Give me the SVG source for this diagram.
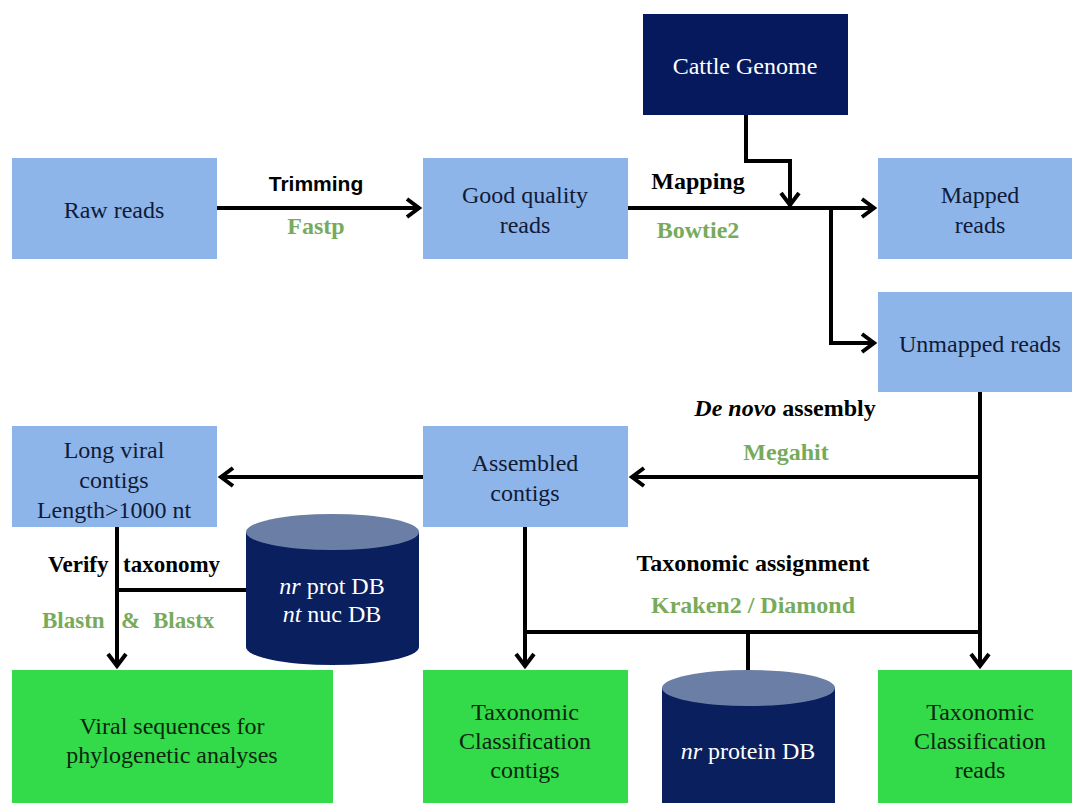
<svg xmlns="http://www.w3.org/2000/svg" width="1072" height="803" viewBox="0 0 1072 803">
<style>
.lb{fill:#8DB5EA}
.gr{fill:#33DA4A}
.dk{fill:#06195C}
.cy{fill:#0A1F5E}
.cyt{fill:#6B7FA6}
.nt{font-family:"Liberation Serif","Times New Roman",serif;font-size:24px;fill:#111a36;text-anchor:middle}
.gt{font-family:"Liberation Serif","Times New Roman",serif;font-size:24px;fill:#0c260e;text-anchor:middle}
.wt{font-family:"Liberation Serif","Times New Roman",serif;font-size:24px;fill:#ffffff;text-anchor:middle}
.lab{font-family:"Liberation Serif","Times New Roman",serif;font-size:24px;font-weight:bold;fill:#000}
.tool{font-family:"Liberation Serif","Times New Roman",serif;font-size:24px;font-weight:bold;fill:#77AB5B}
.sm{font-size:23px}
.sans{font-family:"Liberation Sans",Arial,sans-serif;font-size:21px;font-weight:bold;fill:#000}
.ln{fill:none;stroke:#000;stroke-width:4}
</style>
<defs>
<marker id="arr" markerUnits="userSpaceOnUse" markerWidth="30" markerHeight="30" viewBox="-20 -15 30 30" refX="0" refY="0" orient="auto" overflow="visible">
<path d="M-13,-9 L-1,0 L-13,9" fill="none" stroke="#000" stroke-width="4"/>
</marker>
</defs>

<g id="connectors">
<line class="ln" x1="217" y1="208" x2="420" y2="208" marker-end="url(#arr)"/>
<line class="ln" x1="628" y1="208" x2="875" y2="208" marker-end="url(#arr)"/>
<path class="ln" d="M746,115 V161 H790 V206" marker-end="url(#arr)"/>
<path class="ln" d="M831,208 V343 H875" marker-end="url(#arr)"/>
<path class="ln" d="M980,392 V667" marker-end="url(#arr)"/>
<path class="ln" d="M980,477 H631" marker-end="url(#arr)"/>
<path class="ln" d="M423,477 H220" marker-end="url(#arr)"/>
<path class="ln" d="M117,527 V667" marker-end="url(#arr)"/>
<path class="ln" d="M117,590 H246"/>
<path class="ln" d="M525,527 V667" marker-end="url(#arr)"/>
<path class="ln" d="M525,632 H980"/>
<path class="ln" d="M748,632 V672"/>
</g>

<g id="raw-reads">
<rect class="lb" x="12" y="158" width="205" height="101"/>
<text class="nt" x="114" y="218">Raw reads</text>
</g>
<g id="good-quality-reads">
<rect class="lb" x="423" y="158" width="205" height="101"/>
<text class="nt" x="525" y="203">Good quality</text>
<text class="nt" x="525" y="233">reads</text>
</g>
<g id="cattle-genome">
<rect class="dk" x="643" y="14" width="205" height="101"/>
<text class="wt" x="745" y="74">Cattle Genome</text>
</g>
<g id="mapped-reads">
<rect class="lb" x="878" y="158" width="194" height="101"/>
<text class="nt" x="980" y="203">Mapped</text>
<text class="nt" x="980" y="233">reads</text>
</g>
<g id="unmapped-reads">
<rect class="lb" x="878" y="292" width="194" height="100"/>
<text class="nt" x="980" y="352">Unmapped reads</text>
</g>
<g id="assembled-contigs">
<rect class="lb" x="423" y="426" width="205" height="101"/>
<text class="nt" x="525" y="471">Assembled</text>
<text class="nt" x="525" y="501">contigs</text>
</g>
<g id="long-viral-contigs">
<rect class="lb" x="12" y="426" width="205" height="101"/>
<text class="nt" x="114" y="458">Long viral</text>
<text class="nt" x="114" y="488">contigs</text>
<text class="nt" x="114" y="518">Length&gt;1000 nt</text>
</g>
<g id="nr-nt-db">
<path class="cy" d="M246,532 V647 A86.5,18 0 0 0 419,647 V532 Z"/>
<ellipse class="cyt" cx="332.5" cy="532" rx="86.5" ry="18"/>
<text class="wt" x="332" y="594"><tspan font-style="italic">nr</tspan> prot DB</text>
<text class="wt" x="332" y="622"><tspan font-style="italic">nt</tspan> nuc DB</text>
</g>
<g id="viral-sequences">
<rect class="gr" x="12" y="670" width="321" height="133"/>
<text class="gt" x="172" y="734">Viral sequences for</text>
<text class="gt" x="172" y="763">phylogenetic analyses</text>
</g>
<g id="tax-class-contigs">
<rect class="gr" x="423" y="670" width="205" height="133"/>
<text class="gt" x="525" y="720">Taxonomic</text>
<text class="gt" x="525" y="749">Classification</text>
<text class="gt" x="525" y="778">contigs</text>
</g>
<g id="nr-protein-db">
<path class="cy" d="M662,688 V803 H835 V688 Z"/>
<ellipse class="cyt" cx="748.5" cy="688" rx="86.5" ry="18"/>
<text class="wt" x="748" y="759"><tspan font-style="italic">nr</tspan> protein DB</text>
</g>
<g id="tax-class-reads">
<rect class="gr" x="878" y="670" width="194" height="133"/>
<text class="gt" x="980" y="720">Taxonomic</text>
<text class="gt" x="980" y="749">Classification</text>
<text class="gt" x="980" y="778">reads</text>
</g>

<g id="labels">
<text class="sans" x="316" y="191" text-anchor="middle">Trimming</text>
<text class="tool" x="316" y="234" text-anchor="middle">Fastp</text>
<text class="lab" x="698" y="189" text-anchor="middle">Mapping</text>
<text class="tool" x="698" y="238" text-anchor="middle">Bowtie2</text>
<text class="lab" x="785" y="416" text-anchor="middle"><tspan font-style="italic">De novo</tspan> assembly</text>
<text class="tool" x="786" y="460" text-anchor="middle">Megahit</text>
<text class="lab sm" x="48" y="572">Verify</text>
<text class="lab sm" x="123" y="572">taxonomy</text>
<text class="tool sm" x="42" y="628">Blastn</text>
<text class="tool sm" x="121" y="628">&amp;</text>
<text class="tool sm" x="153" y="628">Blastx</text>
<text class="lab" x="753" y="571" text-anchor="middle">Taxonomic assignment</text>
<text class="tool" x="753" y="613" text-anchor="middle">Kraken2 / Diamond</text>
</g>
</svg>
